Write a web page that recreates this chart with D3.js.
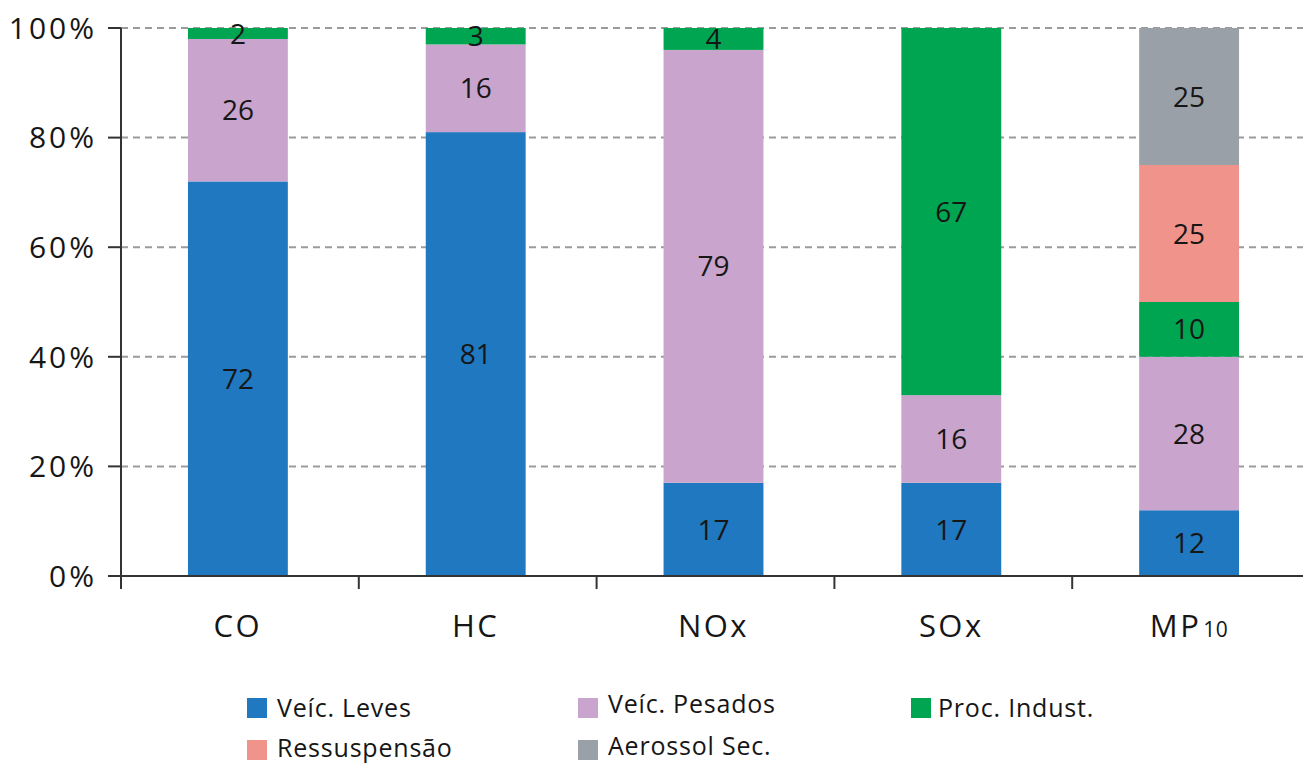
<!DOCTYPE html>
<html>
<head>
<meta charset="utf-8">
<script src="https://cdn.jsdelivr.net/npm/d3@7"></script>
<style>
  html, body { margin: 0; padding: 0; background: #fff; }
  svg { display: block; }
  text { font-family: "Open Sans", "Noto Sans", sans-serif; fill: #161616; }
</style>
</head>
<body>
<svg id="chart" width="1303" height="764"></svg>
<script>
// Pollutants on the horizontal axis
const categories = ["CO", "HC", "NOx", "SOx", "MP10"];

// Share (%) of each emission source per pollutant, stacked bottom to top
const seriesNames = ["Veíc. Leves", "Veíc. Pesados", "Proc. Indust.", "Ressuspensão", "Aerossol Sec."];
const veicLeves    = [72, 81, 17, 17, 12];
const veicPesados  = [26, 16, 79, 16, 28];
const procIndust   = [2, 3, 4, 67, 10];
const ressuspensao = [0, 0, 0, 0, 25];
const aerossolSec  = [0, 0, 0, 0, 25];
const seriesValues = [veicLeves, veicPesados, procIndust, ressuspensao, aerossolSec];

const yTicks = [0, 20, 40, 60, 80, 100];
const colors = ["#1f78c0", "#c9a4cd", "#00a551", "#f0938b", "#9aa0a8"];

const svg = d3.select("#chart");
const plotLeft = 121, plotRight = 1310, plotTop = 28, plotBottom = 576;

// Table rows for d3.stack
const rows = categories.map((c, i) => {
  const r = { cat: c };
  seriesNames.forEach((s, k) => { r[s] = seriesValues[k][i]; });
  return r;
});
const stacked = d3.stack().keys(seriesNames)(rows);

const x = d3.scaleBand().domain(categories).range([plotLeft - 2, plotRight - 2])
  .paddingInner(0.58).paddingOuter(0.29);
const y = d3.scaleLinear().domain([0, 100]).range([plotBottom, plotTop]);

// Dashed gridlines
svg.append("g").selectAll("line")
  .data(yTicks.filter(t => t > 0))
  .join("line")
  .attr("x1", plotLeft).attr("x2", 1303)
  .attr("y1", d => y(d)).attr("y2", d => y(d))
  .attr("stroke", "#9b9b9b").attr("stroke-width", 2)
  .attr("stroke-dasharray", "7,5");

// Stacked bars
const layer = svg.append("g").selectAll("g")
  .data(stacked)
  .join("g")
  .attr("fill", (d, i) => colors[i]);

layer.selectAll("rect")
  .data(d => d.filter(p => p[1] - p[0] > 0))
  .join("rect")
  .attr("x", d => x(d.data.cat))
  .attr("width", x.bandwidth())
  .attr("y", d => y(d[1]))
  .attr("height", d => y(d[0]) - y(d[1]));

// Value labels centred in each segment
const labels = svg.append("g");
stacked.forEach(s => {
  s.filter(p => p[1] - p[0] > 0).forEach(p => {
    labels.append("text")
      .attr("x", x(p.data.cat) + x.bandwidth() / 2)
      .attr("y", y((p[0] + p[1]) / 2))
      .attr("dy", "0.36em")
      .attr("text-anchor", "middle")
      .attr("font-size", 28)
      .text(p[1] - p[0]);
  });
});

// Y axis
const yAxis = svg.append("g");
yAxis.append("line")
  .attr("x1", plotLeft).attr("x2", plotLeft)
  .attr("y1", y(100)).attr("y2", y(0))
  .attr("stroke", "#333").attr("stroke-width", 2);
yAxis.selectAll("line.tick")
  .data(yTicks)
  .join("line")
  .attr("class", "tick")
  .attr("x1", plotLeft - 13).attr("x2", plotLeft)
  .attr("y1", d => y(d)).attr("y2", d => y(d))
  .attr("stroke", "#333").attr("stroke-width", 2);
yAxis.selectAll("text")
  .data(yTicks)
  .join("text")
  .attr("x", 97)
  .attr("y", d => y(d))
  .attr("dy", "0.36em")
  .attr("text-anchor", "end")
  .attr("font-size", 30)
  .attr("letter-spacing", 3)
  .text(d => d + "%");

// X axis with ticks on category boundaries
const xAxis = svg.append("g");
xAxis.append("line")
  .attr("x1", plotLeft - 13).attr("x2", 1303)
  .attr("y1", plotBottom).attr("y2", plotBottom)
  .attr("stroke", "#333").attr("stroke-width", 2);
const step = x.step();
xAxis.selectAll("line.tick")
  .data(d3.range(categories.length + 1))
  .join("line")
  .attr("class", "tick")
  .attr("x1", i => plotLeft + i * step).attr("x2", i => plotLeft + i * step)
  .attr("y1", plotBottom).attr("y2", plotBottom + 13)
  .attr("stroke", "#333").attr("stroke-width", 2);

const catLabel = xAxis.selectAll("text")
  .data(categories)
  .join("text")
  .attr("x", d => x(d) + x.bandwidth() / 2)
  .attr("y", 637)
  .attr("text-anchor", "middle")
  .attr("font-size", 31)
  .attr("letter-spacing", 2.5);
catLabel.each(function(d) {
  const m = d.match(/^(\D+)(\d*)$/);
  const t = d3.select(this);
  t.append("tspan").text(m[1]);
  if (m[2]) t.append("tspan").attr("font-size", 21).attr("letter-spacing", 0.5).attr("dx", 2).text(m[2]);
});

// Legend
const legendPos = [[247, 698], [578, 698], [911, 698], [247, 740], [578, 740]];
const legend = svg.append("g").selectAll("g")
  .data(seriesNames)
  .join("g")
  .attr("transform", (d, i) => `translate(${legendPos[i][0]},${legendPos[i][1]})`);
legend.append("rect")
  .attr("width", 20).attr("height", 20)
  .attr("fill", (d, i) => colors[i]);
legend.append("text")
  .attr("x", (d, i) => i === 2 ? 27 : 30)
  .attr("y", (d, i) => i === 1 ? 15 : (i === 4 ? 15 : (i === 3 ? 17 : 19)))
  .attr("font-size", 25)
  .attr("letter-spacing", 0.8)
  .text(d => d);
</script>
</body>
</html>
